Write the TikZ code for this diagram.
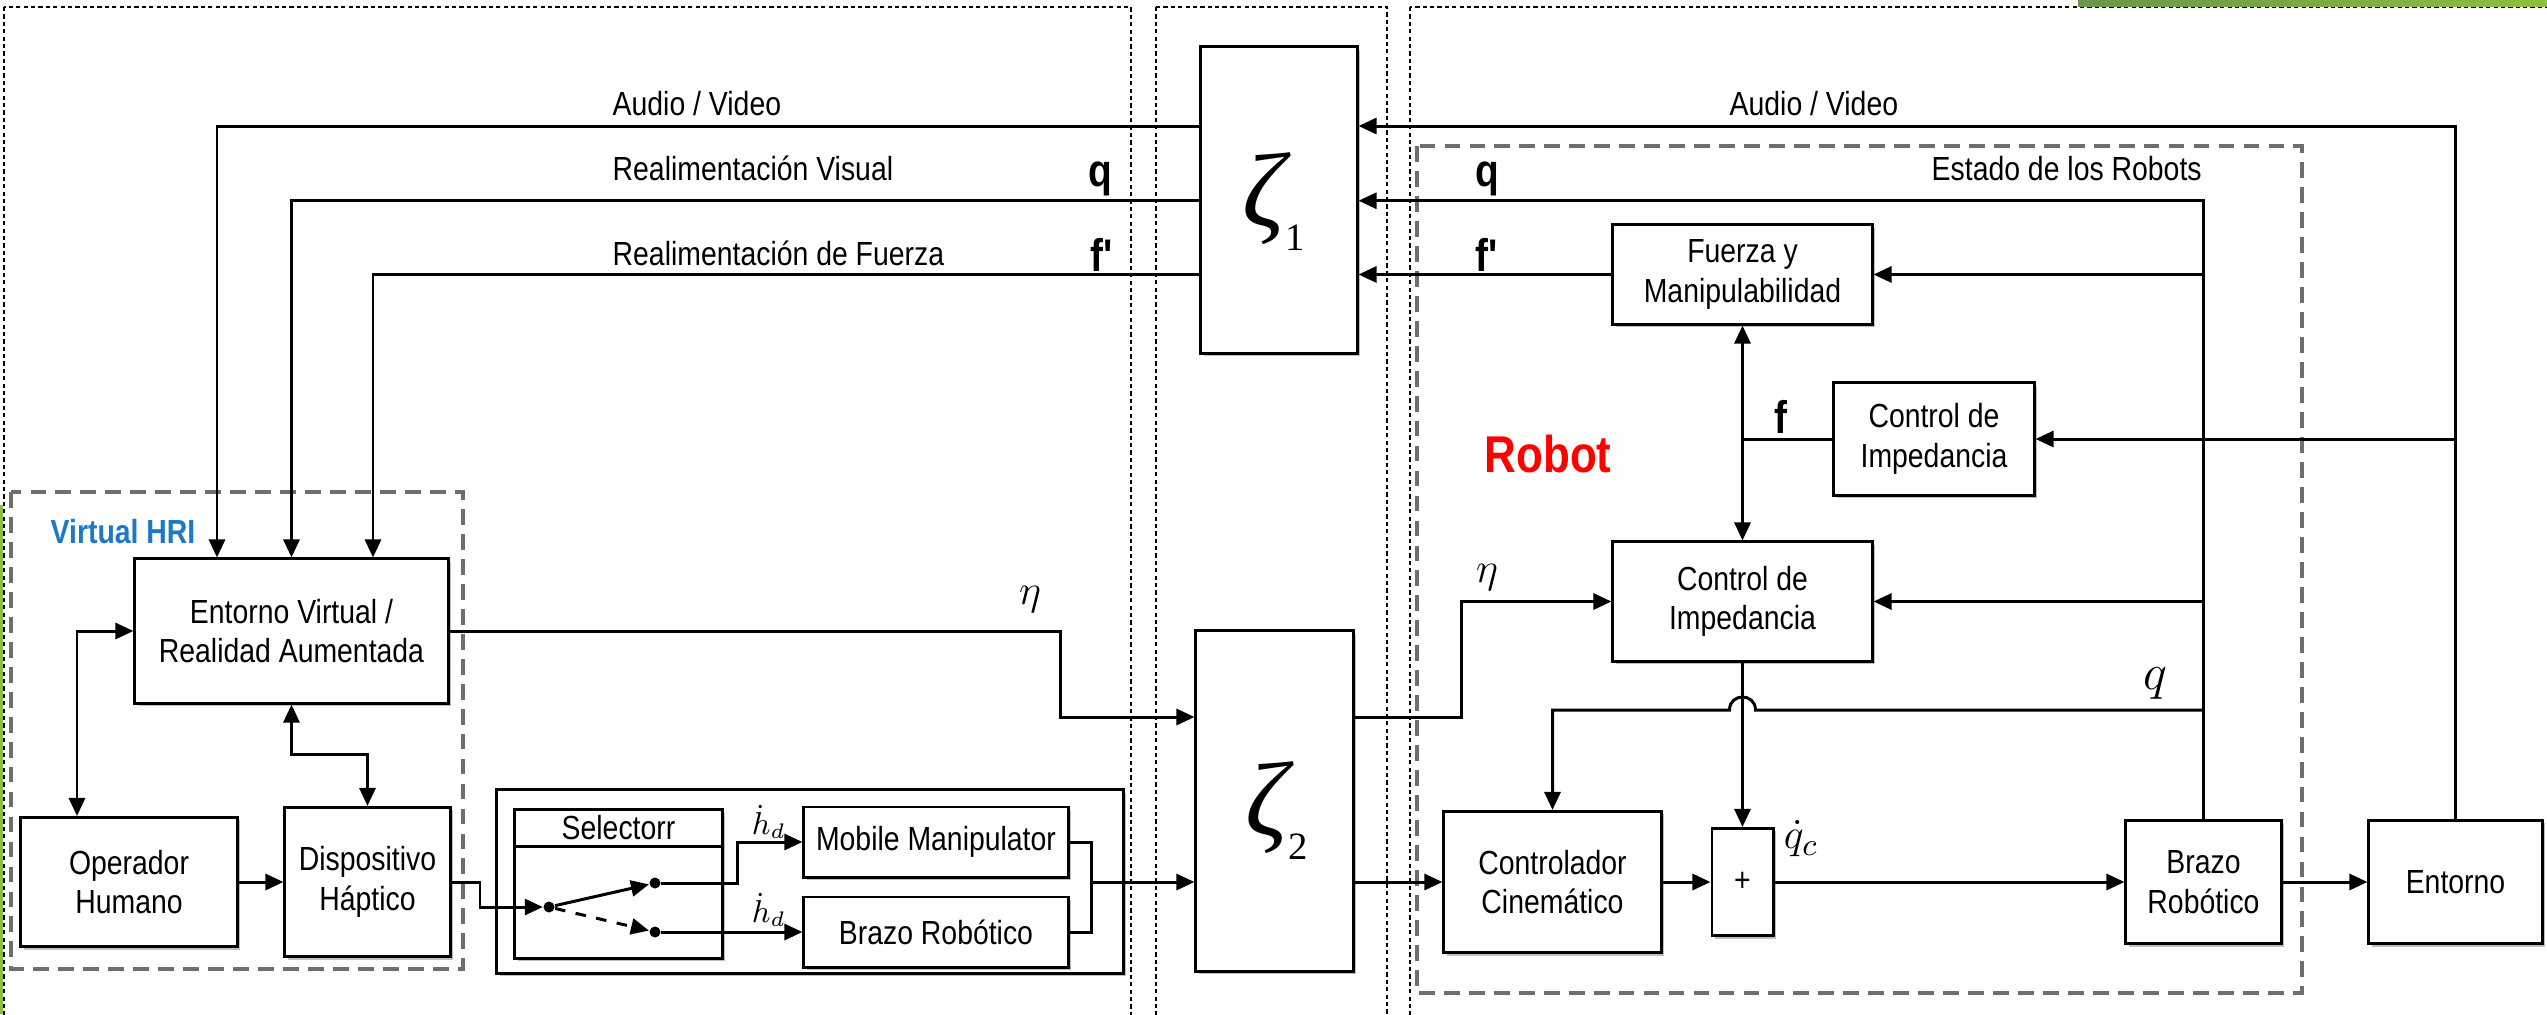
\documentclass[tikz,border=0pt]{standalone}
\usepackage{fontspec}
\setmainfont[FakeStretch=0.85]{Liberation Sans}
\newfontfamily\tms{Liberation Serif}
\usetikzlibrary{arrows.meta,shadows,calc}
\definecolor{hriblue}{RGB}{30,120,200}
\definecolor{dashgray}{RGB}{110,110,110}
\definecolor{grnA}{RGB}{104,150,72}
\definecolor{grnB}{RGB}{140,192,60}
\tikzset{
  blk/.style={draw, line width=0.85pt, fill=white, align=center, inner sep=0pt,
    font=\fontsize{9.5pt}{11.2pt}\selectfont,
    drop shadow={shadow xshift=0.03cm, shadow yshift=-0.03cm, opacity=0.25, fill=black}},
  arr/.style={line width=0.85pt, -{Triangle[length=1.8mm,width=1.6mm]}},
  arrb/.style={line width=0.85pt, {Triangle[length=1.8mm,width=1.6mm]}-{Triangle[length=1.8mm,width=1.6mm]}},
  wire/.style={line width=0.85pt},
  panel/.style={line width=0.5pt, dash pattern=on 1.2pt off 0.9pt},
  grpbox/.style={draw=dashgray, line width=0.9pt, dash pattern=on 4.5pt off 2.6pt},
  lbl/.style={font=\fontsize{9.5pt}{11pt}\selectfont, inner sep=0pt, anchor=base west},
  blbl/.style={font=\fontsize{13pt}{13pt}\selectfont\bfseries, inner sep=0pt, anchor=base west},
  mlbl/.style={inner sep=0pt},
  dotn/.style={circle, fill, inner sep=0pt, minimum size=0.11cm},
}
\begin{document}
\begin{tikzpicture}[x=0.01cm,y=-0.01cm]
\useasboundingbox (0,0) rectangle (2547,1014);
\clip (0,0) rectangle (2547,1014);
\fill[white] (0,0) rectangle (2547,1014);

% panels
\draw[panel] (4,7) rectangle (1131,1100);
\draw[panel] (1156,7) rectangle (1387,1100);
\draw[panel] (1410,7) rectangle (2600,1100);
\shade[left color=grnA, right color=grnB] (2078,0) rectangle (2547,6);
\draw[grnB, line width=0.6pt] (1.5,505) -- (1.5,1014);

% dashed groups
\draw[grpbox] (11,492) rectangle (463,969);
\draw[grpbox] (1417,146) rectangle (2302,993);

% blocks
\node[blk, minimum width=1.56cm, minimum height=3.06cm] (zeta1) at (1279,200) {};
\node[blk, minimum width=1.57cm, minimum height=3.40cm] (zeta2) at (1274.5,801) {};
\node[blk, minimum width=3.13cm, minimum height=1.44cm] (entv) at (291.5,631) {Entorno Virtual /\\Realidad Aumentada};
\node[blk, minimum width=2.16cm, minimum height=1.29cm] (oper) at (129,882) {Operador\\Humano};
\node[blk, minimum width=1.65cm, minimum height=1.49cm] (disp) at (367.5,882) {Dispositivo\\Háptico};
\node[blk, minimum width=6.26cm, minimum height=1.83cm] (grp) at (810,881.5) {};
\node[blk, minimum width=2.07cm, minimum height=1.48cm] (sel) at (618.5,884) {};
\node[blk, minimum width=2.64cm, minimum height=0.70cm] (mobm) at (936,842) {Mobile Manipulator};
\node[blk, minimum width=2.64cm, minimum height=0.70cm] (brz1) at (936,932) {Brazo Robótico};
\node[blk, minimum width=2.59cm, minimum height=0.99cm] (fuer) at (1742.5,274.5) {Fuerza y\\Manipulabilidad};
\node[blk, minimum width=2.00cm, minimum height=1.12cm] (cimp1) at (1934,439) {Control de\\Impedancia};
\node[blk, minimum width=2.59cm, minimum height=1.19cm] (cimp2) at (1742.5,601.5) {Control de\\Impedancia};
\node[blk, minimum width=2.17cm, minimum height=1.41cm] (ccin) at (1552.5,882) {Controlador\\Cinemático};
\node[blk, minimum width=0.61cm, minimum height=1.07cm] (plus) at (1742.5,882) {+};
\node[blk, minimum width=1.55cm, minimum height=1.23cm] (brz2) at (2203.5,882) {Brazo\\Robótico};
\node[blk, minimum width=1.73cm, minimum height=1.23cm] (ento) at (2455.5,882) {Entorno};

% selector internals
\draw[wire] (sel.west |- 0,846) -- (sel.east |- 0,846);
\node[font=\fontsize{9.5pt}{11pt}\selectfont, inner sep=0pt] (tsel) at (618.5,828) {Selectorr};
\node[dotn] (piv) at (549,907) {};
\node[dotn] (up) at (655,883) {};
\node[dotn] (lo) at (655,932) {};

% zeta symbols
\node[inner sep=0pt, anchor=base] (z1s) at (1274,226) {\fontsize{30pt}{30pt}\selectfont\tms\itshape ζ\raisebox{-7pt}{\fontsize{11pt}{11pt}\selectfont\upshape 1}};
\node[inner sep=0pt, anchor=base] (z2s) at (1277,835) {\fontsize{30pt}{30pt}\selectfont\tms\itshape ζ\raisebox{-7pt}{\fontsize{11pt}{11pt}\selectfont\upshape 2}};

% coordinates
\coordinate (yAV) at (0,126);
\coordinate (yQ) at (0,200.7);
\coordinate (xAV) at (217,0);
\coordinate (xF) at (373,0);
\coordinate (xOp) at (77,0);
\coordinate (yH) at (0,754);
\coordinate (yE) at (0,717);
\coordinate (yq2) at (0,710);
\coordinate (j1) at (1091,882);

% wires
\draw[arr] (ento.north) |- (zeta1.east |- yAV);
\draw[arr] (zeta1.west |- yAV) -| (xAV |- entv.north);
\draw[arr] (brz2.north) |- (zeta1.east |- yQ);
\draw[arr] (zeta1.west |- yQ) -| (entv.north);
\draw[arr] (fuer.west) -- (zeta1.east |- fuer.west);
\draw[arr] (zeta1.west |- fuer.west) -| (xF |- entv.north);
\draw[arr] (brz2.north |- fuer.east) -- (fuer.east);
\draw[arr] (brz2.north |- cimp2.east) -- (cimp2.east);
\draw[arr] (ento.north |- cimp1.east) -- (cimp1.east);
\draw[wire] (cimp1.west) -- (fuer.south |- cimp1.west);
\draw[arrb] (fuer.south) -- (cimp2.north);
\draw[arr] (cimp2.south) -- (plus.north);
\draw[arr] (brz2.north |- yq2) -- (1755.5,710) .. controls (1755.5,692.7) and (1729.5,692.7) .. (1729.5,710) -- (ccin.north |- yq2) -- (ccin.north);

\draw[arr] (entv.east) -- (1060,631) -- (1060,717) -- (zeta2.west |- yE);
\draw[arr] (zeta2.east |- yE) -- (1461,717) |- (cimp2.west);

\draw[arr] (disp.east) -- (480,882) -- (480,907) -- (piv);
\draw[arr] (piv) -- (up);
\draw[arr, dash pattern=on 3pt off 3pt] (piv) -- (lo);
\draw[arr] (up) -- (737,883) |- (mobm.west);
\draw[arr] (lo) -- (brz1.west);
\draw[wire] (mobm.east) -- (1091,842) |- (brz1.east);
\draw[arr] (j1) -- (zeta2.west |- j1);
\draw[arr] (zeta2.east |- ccin.west) -- (ccin.west);
\draw[arr] (ccin.east) -- (plus.west);
\draw[arr] (plus.east) -- (brz2.west);
\draw[arr] (brz2.east) -- (ento.west);
\draw[arr] (oper.east) -- (disp.west);
\draw[arrb] (entv.west) -| (xOp |- oper.north);
\draw[arrb] (entv.south) -- (entv.south |- yH) -| (disp.north);

% labels
\node[lbl] (tAV1) at (612,115) {Audio / Video};
\node[lbl] (tRV) at (612,180) {Realimentación Visual};
\node[lbl] (tRF) at (612,265) {Realimentación de Fuerza};
\node[blbl] (tq1) at (1088,186) {q};
\node[blbl] (tf1) at (1090,271) {f\textquotesingle};
\node[lbl] (tAV2) at (1729,115) {Audio / Video};
\node[lbl] (tER) at (1931,180) {Estado de los Robots};
\node[blbl] (tq2) at (1475,186) {q};
\node[blbl] (tf2) at (1475,271) {f\textquotesingle};
\node[blbl] (tf3) at (1774,433) {f};
\node[font=\fontsize{14.7pt}{15pt}\selectfont\bfseries, text=red, anchor=base west, inner sep=0pt] (trob) at (1484,472) {Robot};
\node[font=\fontsize{9.5pt}{11pt}\selectfont\bfseries, text=hriblue, anchor=base west, inner sep=0pt] (thri) at (50,543) {Virtual HRI};
\node[mlbl, font=\fontsize{13pt}{13pt}\selectfont] (teta1) at (1030,600) {$\eta$};
\node[mlbl, font=\fontsize{13pt}{13pt}\selectfont] (teta2) at (1487,578) {$\eta$};
\node[mlbl, font=\fontsize{14pt}{14pt}\selectfont] (tqs) at (2155,684) {$q$};
\node[mlbl, font=\fontsize{13pt}{13pt}\selectfont] (tqc) at (1801,839) {$\dot{q}_c$};
\node[mlbl, font=\fontsize{9pt}{9pt}\selectfont] (thd1) at (769,822) {$\dot{h}_d$};
\node[mlbl, font=\fontsize{9pt}{9pt}\selectfont] (thd2) at (769,910) {$\dot{h}_d$};
\end{tikzpicture}
\end{document}
